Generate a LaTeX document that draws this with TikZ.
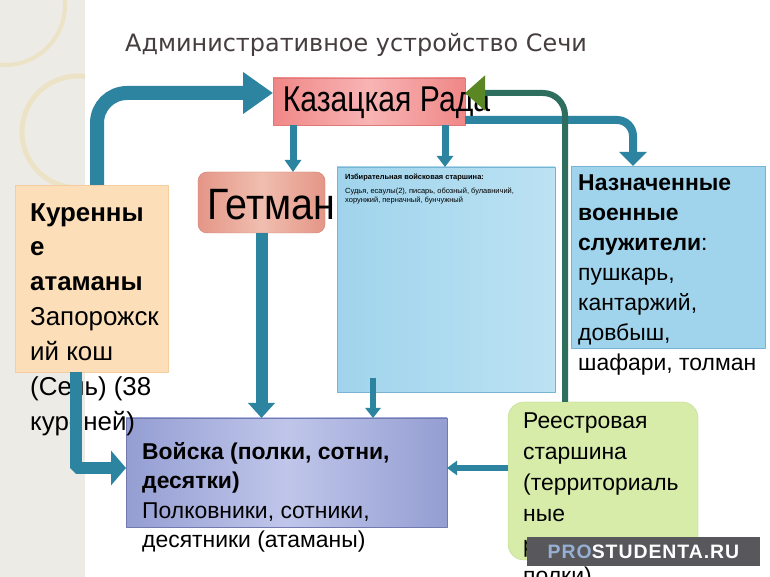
\documentclass[tikz,border=0pt]{standalone}
\usepackage{fontspec}
\setmainfont{Liberation Sans}
\newfontfamily\titlefont{DejaVu Sans}
\usetikzlibrary{arrows.meta}
\definecolor{arrowteal}{RGB}{45,132,160}
\definecolor{greenline}{RGB}{45,110,95}
\definecolor{greenhead}{RGB}{90,135,35}
\definecolor{radafill}{RGB}{240,135,135}
\definecolor{radalight}{RGB}{248,180,180}
\definecolor{radadraw}{RGB}{225,120,120}
\definecolor{getfill}{RGB}{228,150,135}
\definecolor{getlight}{RGB}{240,190,175}
\definecolor{getdraw}{RGB}{205,125,110}
\definecolor{bluefill}{RGB}{160,212,236}
\definecolor{bluelight}{RGB}{188,226,243}
\definecolor{bluedraw}{RGB}{120,180,210}
\definecolor{kurfill}{RGB}{252,222,185}
\definecolor{kurdraw}{RGB}{245,205,160}
\definecolor{voifill}{RGB}{148,158,210}
\definecolor{voilight}{RGB}{192,198,234}
\definecolor{voidraw}{RGB}{115,122,175}
\definecolor{reefill}{RGB}{214,236,168}
\definecolor{reedraw}{RGB}{190,218,140}
\definecolor{stripgray}{RGB}{236,235,230}
\definecolor{arcbeige}{RGB}{236,226,198}
\definecolor{titlegray}{RGB}{70,62,62}
\definecolor{wmgray}{RGB}{88,88,92}
\definecolor{wmblue}{RGB}{150,175,210}
\begin{document}
\begin{tikzpicture}[>=latex,line join=bevel,
  box/.style={draw,inner sep=0pt,outer sep=0pt},
  txt/.style={anchor=north west,inner sep=0pt,align=left,text=black},
  conn/.style={draw=arrowteal}]
\useasboundingbox (0bp,0bp) rectangle (770bp,577bp);
%% background
\fill[white] (0bp,0bp) rectangle (770bp,577bp);
\fill[stripgray] (0bp,0bp) rectangle (85bp,577bp);
\begin{scope}
  \clip (0bp,0bp) rectangle (85bp,577bp);
  \draw[arcbeige,line width=4bp] (5bp,572bp) circle (60bp);
  \draw[arcbeige,line width=5bp] (78bp,445bp) circle (56bp);
\end{scope}
%%
\node (title) at (125bp,532bp) [anchor=west,inner sep=0pt,text=titlegray,font=\titlefont\fontsize{24}{28}\selectfont] {Административное устройство Сечи};
  \node (rada) at (369bp,475.5bp) [box,draw=radadraw,left color=radafill,right color=radafill,middle color=radalight,minimum width=192bp,minimum height=47bp] {};
  \node (getman) at (261.5bp,374.5bp) [box,draw=getdraw,rounded corners=9bp,left color=getfill,right color=getfill,middle color=getlight,minimum width=127bp,minimum height=61bp] {};
  \node (izbir) at (446bp,297.5bp) [box,draw=bluedraw,left color=bluefill,right color=bluelight,minimum width=218bp,minimum height=225bp] {};
  \node (naznach) at (668bp,320bp) [box,draw=bluedraw,fill=bluefill,minimum width=194bp,minimum height=182bp] {};
  \node (kuren) at (91.5bp,298.5bp) [box,draw=kurdraw,fill=kurfill,minimum width=153bp,minimum height=187bp] {};
  \node (voiska) at (286.5bp,104.5bp) [box,draw=voidraw,left color=voifill,right color=voifill,middle color=voilight,minimum width=321bp,minimum height=109bp] {};
  \node (reestr) at (603bp,96bp) [box,draw=reedraw,fill=reefill,rounded corners=16bp,minimum width=190bp,minimum height=158bp] {};
%% texts
\node (rada-text) at (386.5bp,465bp) [anchor=base,inner sep=0pt] {\scalebox{0.84}[1]{\fontsize{36}{40}\selectfont Казацкая Рада}};
  \node (getman-text) at (207bp,357bp) [anchor=base west,inner sep=0pt] {\scalebox{0.9}[1]{\fontsize{44}{50}\selectfont Гетман}};
  \node (izbir-text) at (345bp,403bp) [txt,font=\fontsize{7.5}{9}\selectfont] {\textbf{Избирательная войсковая старшина:}\\[5bp]Судья, есаулы(2), писарь, обозный, булавничий,\\хорунжий, перначный, бунчужный};
  \node (naznach-text) at (578bp,402bp) [txt,font=\fontsize{23}{30}\selectfont] {\textbf{Назначенные}\\\textbf{военные}\\\textbf{служители}:\\пушкарь,\\кантаржий,\\довбыш,\\шафари, толман};
  \node (kuren-text) at (30bp,374bp) [txt,font=\fontsize{26}{35}\selectfont] {\textbf{Куренны}\\\textbf{е}\\\textbf{атаманы}\\Запорожск\\ий кош\\(Сечь) (38\\куреней)};
  \node (voiska-text) at (142bp,135bp) [txt,font=\fontsize{23}{29.5}\selectfont] {\textbf{Войска (полки, сотни,}\\\textbf{десятки)}\\Полковники, сотники,\\десятники (атаманы)};
  \node (reestr-text) at (523bp,164bp) [txt,font=\fontsize{23}{31}\selectfont] {Реестровая\\старшина\\(территориаль\\ные\\реестровые\\полки)};
%% connectors
\coordinate (rada-l) at ([xshift=-76bp]rada.south);
  \coordinate (rada-r) at ([xshift=76bp]rada.south);
  \coordinate (izbir-out) at ([xshift=-73bp,yshift=14bp]izbir.south);
  \coordinate (reestr-l) at ([yshift=13bp]reestr.west);
  \draw [conn,line width=14bp,rounded corners=30bp,-{Triangle[width=40bp,length=30bp]}] ([xshift=5.5bp]kuren.north) |- ([yshift=8.5bp]rada.west);
  \draw [conn,line width=12bp,-{Triangle[width=34bp,length=15bp]}] ([xshift=-15.5bp]kuren.south) |- ([yshift=4.5bp]voiska.west);
  \draw [conn,line width=7bp,-{Triangle[width=16bp,length=12bp]}] (rada-l) -- (rada-l |- getman.north);
  \draw [conn,line width=7bp,-{Triangle[width=16bp,length=11bp]}] (rada-r) -- (rada-r |- izbir.north);
  \draw [conn,line width=8bp,rounded corners=16bp,-{Triangle[width=27bp,length=14bp]}] ([yshift=-18.5bp]rada.east) -| ([xshift=-35bp]naznach.north);
  \draw [conn,line width=12bp,-{Triangle[width=26bp,length=15bp]}] (getman.south) -- (getman.south |- voiska.north);
  \draw [conn,line width=6bp,-{Triangle[width=15bp,length=10bp]}] (izbir-out) -- (izbir-out |- voiska.north);
  \draw [conn,line width=6bp,-{Triangle[width=14bp,length=10bp]}] (reestr-l) -- (reestr-l -| voiska.east);
  \draw [draw=greenline,line width=6bp,rounded corners=22bp,-{Triangle[width=34bp,length=20bp,color=greenhead,fill=greenhead]}] ([xshift=-38bp]reestr.north) |- ([yshift=8.5bp]rada.east);
%% watermark
\node (wmark) at (643.5bp,25.5bp) [fill=wmgray,minimum width=233bp,minimum height=29bp,inner sep=0pt,text=white,font=\bfseries\fontsize{19.5}{22}\selectfont\addfontfeature{LetterSpace=5}] {\textcolor{wmblue}{PRO}STUDENTA.RU};
%
\end{tikzpicture}
\end{document}
